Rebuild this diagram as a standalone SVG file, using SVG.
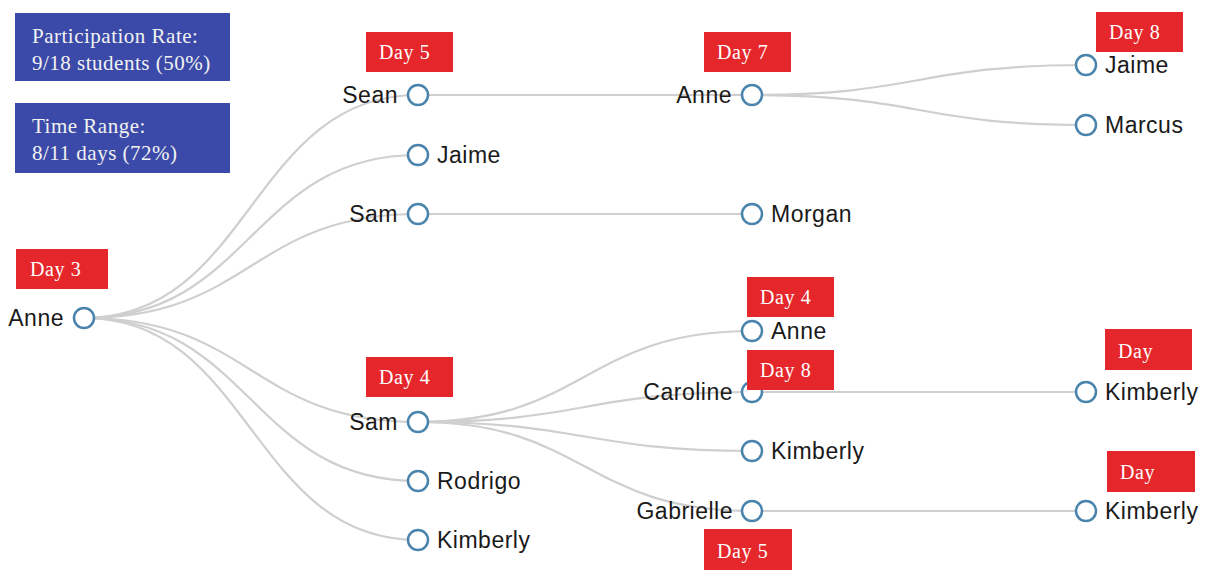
<svg xmlns="http://www.w3.org/2000/svg" width="1206" height="570" viewBox="0 0 1206 570">
<style>
.link{fill:none;stroke:#cfcfcf;stroke-width:2.2}
.node circle{fill:#fff;stroke:#4a84ad;stroke-width:2.5}
.node text{font-family:"Liberation Sans",Arial,sans-serif;font-size:23px;fill:#1a1a1a;letter-spacing:0.5px}
.l{text-anchor:end}
.day rect{fill:#e5262b}
.day text{font-family:"Liberation Serif","Times New Roman",serif;font-size:20px;fill:#fff;letter-spacing:0.6px}
.info rect{fill:#3b4aa8}
.info text{font-family:"Liberation Serif","Times New Roman",serif;font-size:21px;fill:#f2f2f2;letter-spacing:0.5px}
</style>
<rect width="1206" height="570" fill="#fff"/>
<g id="connectors">
<path class="link" d="M84,318C251,318 251,95 418,95"/>
<path class="link" d="M84,318C251,318 251,155 418,155"/>
<path class="link" d="M84,318C251,318 251,214 418,214"/>
<path class="link" d="M84,318C251,318 251,422 418,422"/>
<path class="link" d="M84,318C251,318 251,481 418,481"/>
<path class="link" d="M84,318C251,318 251,540 418,540"/>
<path class="link" d="M418,95C585,95 585,95 752,95"/>
<path class="link" d="M418,214C585,214 585,214 752,214"/>
<path class="link" d="M418,422C585,422 585,331 752,331"/>
<path class="link" d="M418,422C585,422 585,392 752,392"/>
<path class="link" d="M418,422C585,422 585,451 752,451"/>
<path class="link" d="M418,422C585,422 585,511 752,511"/>
<path class="link" d="M752,95C919,95 919,65 1086,65"/>
<path class="link" d="M752,95C919,95 919,125 1086,125"/>
<path class="link" d="M752,392C919,392 919,392 1086,392"/>
<path class="link" d="M752,511C919,511 919,511 1086,511"/>
</g>
<g id="n-anne-root" class="node"><circle cx="84" cy="318" r="10"/><text class="l" x="64" y="326">Anne</text></g>
<g id="n-sean" class="node"><circle cx="418" cy="95" r="10"/><text class="l" x="398" y="103">Sean</text></g>
<g id="n-jaime1" class="node"><circle cx="418" cy="155" r="10"/><text x="437" y="163">Jaime</text></g>
<g id="n-sam1" class="node"><circle cx="418" cy="214" r="10"/><text class="l" x="398" y="222">Sam</text></g>
<g id="n-sam2" class="node"><circle cx="418" cy="422" r="10"/><text class="l" x="398" y="430">Sam</text></g>
<g id="n-rodrigo" class="node"><circle cx="418" cy="481" r="10"/><text x="437" y="489">Rodrigo</text></g>
<g id="n-kimberly1" class="node"><circle cx="418" cy="540" r="10"/><text x="437" y="548">Kimberly</text></g>
<g id="n-anne2" class="node"><circle cx="752" cy="95" r="10"/><text class="l" x="732" y="103">Anne</text></g>
<g id="n-morgan" class="node"><circle cx="752" cy="214" r="10"/><text x="771" y="222">Morgan</text></g>
<g id="n-anne3" class="node"><circle cx="752" cy="331" r="10"/><text x="771" y="339">Anne</text></g>
<g id="n-caroline" class="node"><circle cx="752" cy="392" r="10"/><text class="l" x="733" y="400">Caroline</text></g>
<g id="n-kimberly2" class="node"><circle cx="752" cy="451" r="10"/><text x="771" y="459">Kimberly</text></g>
<g id="n-gabrielle" class="node"><circle cx="752" cy="511" r="10"/><text class="l" x="733" y="519">Gabrielle</text></g>
<g id="n-jaime2" class="node"><circle cx="1086" cy="65" r="10"/><text x="1105" y="73">Jaime</text></g>
<g id="n-marcus" class="node"><circle cx="1086" cy="125" r="10"/><text x="1105" y="133">Marcus</text></g>
<g id="n-kimberly3" class="node"><circle cx="1086" cy="392" r="10"/><text x="1105" y="400">Kimberly</text></g>
<g id="n-kimberly4" class="node"><circle cx="1086" cy="511" r="10"/><text x="1105" y="519">Kimberly</text></g>
<g id="day-labels">
<g id="d-anne-root" class="day"><rect x="16" y="249" width="92" height="40"/><text x="30" y="276">Day 3</text></g>
<g id="d-sean" class="day"><rect x="366" y="32" width="87" height="40"/><text x="379" y="59">Day 5</text></g>
<g id="d-anne2" class="day"><rect x="704" y="32" width="87" height="40"/><text x="717" y="59">Day 7</text></g>
<g id="d-jaime2" class="day"><rect x="1096" y="12" width="87" height="40"/><text x="1109" y="39">Day 8</text></g>
<g id="d-sam2" class="day"><rect x="366" y="357" width="87" height="40"/><text x="379" y="384">Day 4</text></g>
<g id="d-anne3" class="day"><rect x="747" y="277" width="87" height="40"/><text x="760" y="304">Day 4</text></g>
<g id="d-caroline" class="day"><rect x="747" y="350" width="87" height="40"/><text x="760" y="377">Day 8</text></g>
<g id="d-kimberly3" class="day"><rect x="1105" y="329" width="87" height="41"/><text x="1118" y="358">Day</text></g>
<g id="d-kimberly4" class="day"><rect x="1107" y="451" width="88" height="41"/><text x="1120" y="479">Day</text></g>
<g id="d-gabrielle" class="day"><rect x="704" y="529" width="88" height="41"/><text x="717" y="558">Day 5</text></g>
</g>
<g id="info-participation" class="info"><rect x="15" y="13" width="215" height="68"/><text x="32" y="43">Participation Rate:</text><text x="32" y="70">9/18 students (50%)</text></g>
<g id="info-time" class="info"><rect x="15" y="103" width="215" height="70"/><text x="32" y="133">Time Range:</text><text x="32" y="160">8/11 days (72%)</text></g>
</svg>
